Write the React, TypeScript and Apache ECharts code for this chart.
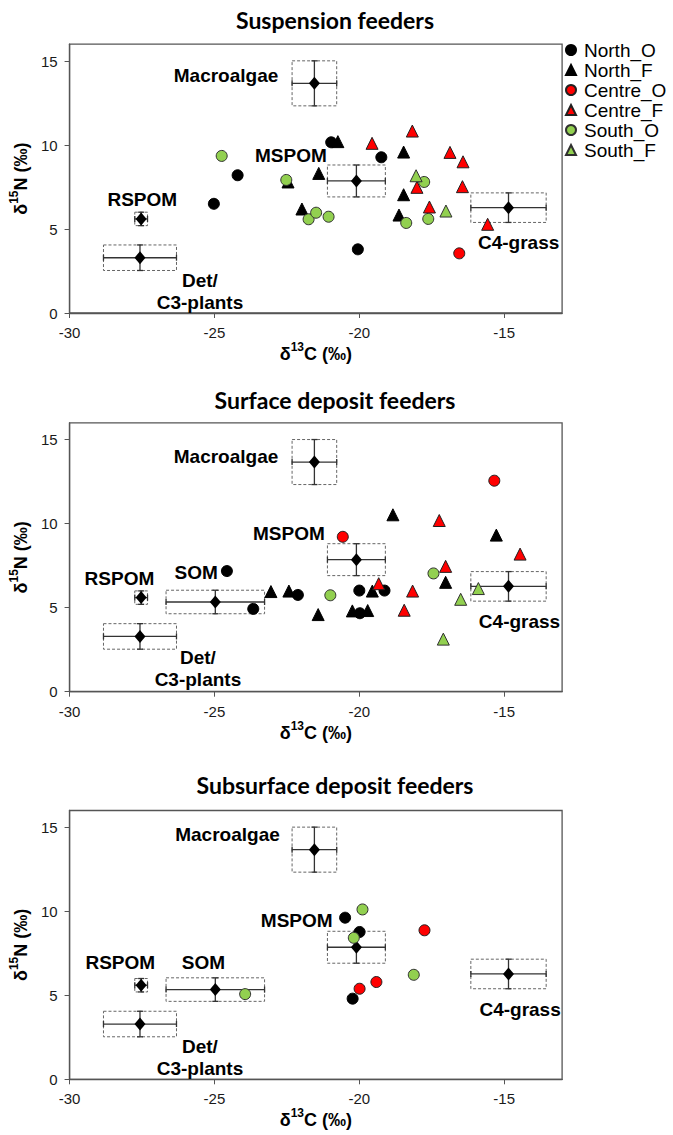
import React, { useEffect, useRef } from "react";
import * as echarts from "echarts";

// ---------- Data ----------
const panelTitles = ["Suspension feeders", "Surface deposit feeders", "Subsurface deposit feeders"];
const groupNames = ["North_O", "North_F", "Centre_O", "Centre_F", "South_O", "South_F"];

// Suspension feeders [d13C, d15N]
const susp_North_O = [[-25.02, 6.5], [-24.2, 8.2], [-20.97, 10.16], [-19.24, 9.27], [-20.05, 3.79]];
const susp_North_F = [[-22.46, 7.8], [-21.98, 6.19], [-21.4, 8.31], [-20.74, 10.2], [-18.47, 9.58], [-18.47, 7.04], [-18.63, 5.83]];
const susp_Centre_O = [[-16.55, 3.55]];
const susp_Centre_F = [[-19.56, 10.1], [-18.17, 10.83], [-18.01, 7.48], [-17.58, 6.31], [-16.87, 9.56], [-16.42, 9.0], [-16.44, 7.52], [-15.57, 5.28]];
const susp_South_O = [[-24.75, 9.35], [-22.52, 7.92], [-21.75, 5.58], [-21.49, 5.97], [-21.06, 5.73], [-17.76, 7.8], [-18.38, 5.36], [-17.62, 5.6]];
const susp_South_F = [[-18.04, 8.17], [-17.01, 6.07]];

// Surface deposit feeders
const surf_North_O = [[-24.57, 7.18], [-23.66, 4.93], [-22.12, 5.76], [-20.0, 6.02], [-19.13, 6.02], [-19.98, 4.67]];
const surf_North_F = [[-23.05, 5.96], [-22.43, 5.99], [-21.42, 4.59], [-19.55, 5.99], [-20.24, 4.81], [-19.71, 4.83], [-18.84, 10.53], [-17.02, 6.51], [-15.27, 9.32]];
const surf_Centre_O = [[-20.57, 9.22], [-15.34, 12.56]];
const surf_Centre_F = [[-19.33, 6.43], [-18.16, 5.99], [-18.45, 4.85], [-17.24, 10.19], [-17.02, 7.46], [-14.45, 8.19]];
const surf_South_O = [[-21.0, 5.74], [-17.44, 7.04]];
const surf_South_F = [[-16.5, 5.5], [-17.1, 3.13], [-15.89, 6.14]];

// Subsurface deposit feeders
const sub_North_O = [[-20.49, 9.62], [-19.99, 8.77], [-20.23, 4.8]];
const sub_North_F: number[][] = [];
const sub_Centre_O = [[-17.75, 8.87], [-19.41, 5.79], [-19.99, 5.39]];
const sub_Centre_F: number[][] = [];
const sub_South_O = [[-23.94, 5.07], [-19.89, 10.11], [-20.19, 8.42], [-18.12, 6.22]];
const sub_South_F: number[][] = [];

// Food sources: mean and SD
const sourceNames = ["Macroalgae", "MSPOM", "C4-grass", "RSPOM", "Det/C3-plants", "SOM"];
const sourceX = [-21.55, -20.1, -14.85, -27.53, -27.57, -24.97];
const sourceY = [13.67, 7.86, 6.27, 5.6, 3.29, 5.34];
const sourceXErr = [0.77, 1.0, 1.3, 0.22, 1.26, 1.7];
const sourceYErr = [1.34, 0.95, 0.88, 0.4, 0.76, 0.7];
// which sources appear in each panel
const panelSources = [[0, 1, 2, 3, 4], [0, 1, 2, 3, 4, 5], [0, 1, 2, 3, 4, 5]];

// Source label anchors (data coordinates) per panel
const labelTexts = ["Macroalgae", "MSPOM", "RSPOM", "Det/\nC3-plants", "C4-grass", "SOM"];
const labelX1 = [-24.6, -22.36, -27.49, -25.5, -14.5];
const labelY1 = [14.12, 9.4, 6.77, 1.29, 4.18];
const labelX2 = [-24.6, -22.43, -28.28, -25.57, -14.47, -25.63];
const labelY2 = [13.99, 9.44, 6.73, 1.41, 4.15, 7.12];
const labelX3 = [-24.55, -22.16, -28.25, -25.5, -14.45, -25.38];
const labelY3 = [14.58, 9.44, 6.94, 1.29, 4.15, 6.94];

const xTicks = [-30, -25, -20, -15];
const yTicks = [0, 5, 10, 15];

// ---------- Styles ----------
const FONT = '"Liberation Sans", Arial, sans-serif';
const groupStyles: Record<string, { symbol: string; color: string; border: string; size: number }> = {
  North_O: { symbol: "circle", color: "#000000", border: "#000000", size: 11 },
  North_F: { symbol: "triangle", color: "#000000", border: "#000000", size: 12 },
  Centre_O: { symbol: "circle", color: "#FF0000", border: "#202020", size: 11 },
  Centre_F: { symbol: "triangle", color: "#FF0000", border: "#202020", size: 12 },
  South_O: { symbol: "circle", color: "#92D050", border: "#303030", size: 11 },
  South_F: { symbol: "triangle", color: "#92D050", border: "#303030", size: 12 },
};

const panelData = [
  [susp_North_O, susp_North_F, susp_Centre_O, susp_Centre_F, susp_South_O, susp_South_F],
  [surf_North_O, surf_North_F, surf_Centre_O, surf_Centre_F, surf_South_O, surf_South_F],
  [sub_North_O, sub_North_F, sub_Centre_O, sub_Centre_F, sub_South_O, sub_South_F],
];
const panelLabels = [
  [labelX1, labelY1],
  [labelX2, labelY2],
  [labelX3, labelY3],
];

const gridTops = [44.2, 422.9, 810.5];
const titleYs = [20, 400, 785];

const nameRich = {
  b: { fontSize: 18, fontWeight: "bold", fontFamily: FONT, color: "#000", lineHeight: 22, verticalAlign: "bottom" },
  s: { fontSize: 12, fontWeight: "bold", fontFamily: FONT, color: "#000", lineHeight: 22, verticalAlign: "top", padding: [0, 0, 6, 0] },
};

function buildOption() {
  const grids: any[] = [];
  const xAxes: any[] = [];
  const yAxes: any[] = [];
  const series: any[] = [];
  const graphics: any[] = [];
  const axisColor = "#555555";

  for (let p = 0; p < 3; p++) {
    grids.push({
      left: 65.7,
      top: gridTops[p],
      width: 496.4,
      height: 268.8,
      show: true,
      borderColor: axisColor,
      borderWidth: 1.3,
      backgroundColor: "transparent",
    });
    xAxes.push({
      gridIndex: p,
      type: "value",
      min: -30,
      max: -13,
      interval: 5,
      axisLine: { show: true, onZero: false, lineStyle: { color: axisColor, width: 1.3 } },
      axisTick: { show: true, length: 5, customValues: xTicks, lineStyle: { color: axisColor } },
      axisLabel: { customValues: xTicks, fontSize: 15, color: "#1a1a1a", fontFamily: FONT, margin: 12 },
      splitLine: { show: false },
      name: "{b|δ}{s|13}{b|C (‰)}",
      nameLocation: "middle",
      nameGap: 27,
      nameTextStyle: { rich: nameRich },
    });
    yAxes.push({
      gridIndex: p,
      type: "value",
      min: 0,
      max: 16,
      interval: 5,
      axisLine: { show: true, onZero: false, lineStyle: { color: axisColor, width: 1.3 } },
      axisTick: { show: true, length: 5, customValues: yTicks, lineStyle: { color: axisColor } },
      axisLabel: { customValues: yTicks, fontSize: 15, color: "#1a1a1a", fontFamily: FONT, margin: 12 },
      splitLine: { show: false },
      name: "{b|δ}{s|15}{b|N (‰)}",
      nameLocation: "middle",
      nameGap: 25,
      nameTextStyle: { rich: nameRich },
    });

    // Sources: error bars, dashed boxes, diamonds
    const idxs = panelSources[p];
    series.push({
      type: "custom",
      xAxisIndex: p,
      yAxisIndex: p,
      z: 1,
      silent: true,
      data: idxs.map((i) => [sourceX[i], sourceY[i], sourceXErr[i], sourceYErr[i]]),
      encode: { x: 0, y: 1 },
      renderItem: (params: any, api: any) => {
        const x = api.value(0);
        const y = api.value(1);
        const xe = api.value(2);
        const ye = api.value(3);
        const c = api.coord([x, y]);
        const l = api.coord([x - xe, y]);
        const r = api.coord([x + xe, y]);
        const t = api.coord([x, y + ye]);
        const b = api.coord([x, y - ye]);
        const stroke = "#333333";
        const cap = 3;
        const lw = 1.3;
        return {
          type: "group",
          children: [
            {
              type: "rect",
              shape: { x: l[0], y: t[1], width: r[0] - l[0], height: b[1] - t[1] },
              style: { fill: "none", stroke: "#666666", lineWidth: 1, lineDash: [3, 2] },
            },
            { type: "line", shape: { x1: l[0], y1: c[1], x2: r[0], y2: c[1] }, style: { stroke, lineWidth: lw } },
            { type: "line", shape: { x1: c[0], y1: t[1], x2: c[0], y2: b[1] }, style: { stroke, lineWidth: lw } },
            { type: "line", shape: { x1: l[0], y1: c[1] - cap, x2: l[0], y2: c[1] + cap }, style: { stroke, lineWidth: lw } },
            { type: "line", shape: { x1: r[0], y1: c[1] - cap, x2: r[0], y2: c[1] + cap }, style: { stroke, lineWidth: lw } },
            { type: "line", shape: { x1: c[0] - cap, y1: t[1], x2: c[0] + cap, y2: t[1] }, style: { stroke, lineWidth: lw } },
            { type: "line", shape: { x1: c[0] - cap, y1: b[1], x2: c[0] + cap, y2: b[1] }, style: { stroke, lineWidth: lw } },
            {
              type: "polygon",
              shape: { points: [[c[0], c[1] - 6.5], [c[0] + 5.5, c[1]], [c[0], c[1] + 6.5], [c[0] - 5.5, c[1]]] },
              style: { fill: "#000000" },
            },
          ],
        };
      },
    });

    // Source labels
    const [lx, ly] = panelLabels[p];
    series.push({
      type: "custom",
      xAxisIndex: p,
      yAxisIndex: p,
      z: 3,
      silent: true,
      data: lx.map((v: number, i: number) => [v, ly[i]]),
      encode: { x: 0, y: 1 },
      renderItem: (params: any, api: any) => {
        const pt = api.coord([api.value(0), api.value(1)]);
        return {
          type: "text",
          x: pt[0],
          y: pt[1],
          style: {
            text: labelTexts[params.dataIndex],
            fill: "#000000",
            fontSize: 19,
            fontWeight: "bold",
            fontFamily: FONT,
            align: "center",
            verticalAlign: "middle",
            lineHeight: 22,
          },
        };
      },
    });

    // Group scatter series
    groupNames.forEach((g, gi) => {
      const st = groupStyles[g];
      series.push({
        type: "scatter",
        name: g,
        xAxisIndex: p,
        yAxisIndex: p,
        z: 5,
        symbol: st.symbol,
        symbolSize: st.size,
        data: panelData[p][gi],
        itemStyle: { color: st.color, borderColor: st.border, borderWidth: 1, opacity: 1 },
      });
    });

    graphics.push({
      type: "text",
      x: 335,
      y: titleYs[p],
      style: {
        text: panelTitles[p],
        fill: "#000000",
        fontSize: 23,
        fontWeight: "bold",
        fontFamily: "Lato, 'Open Sans', sans-serif",
        align: "center",
        verticalAlign: "middle",
      },
    });
  }

  return {
    animation: false,
    backgroundColor: "#ffffff",
    grid: grids,
    xAxis: xAxes,
    yAxis: yAxes,
    series,
    graphic: graphics,
    legend: {
      data: groupNames.map((g) => ({ name: g, icon: groupStyles[g].symbol })),
      orient: "vertical",
      left: 560,
      top: 35,
      itemWidth: 10,
      itemHeight: 10,
      itemGap: 0,
      selectedMode: false,
      textStyle: { fontSize: 19, fontFamily: FONT, color: "#000", lineHeight: 20, padding: [0, 0, 0, 3] },
    },
  };
}

export default function App() {
  const ref = useRef<HTMLDivElement>(null);
  useEffect(() => {
    document.body.style.margin = "0";
    if (!ref.current) return;
    const chart = echarts.init(ref.current, null, { renderer: "svg" });
    chart.setOption(buildOption() as any);
    return () => chart.dispose();
  }, []);
  return <div ref={ref} style={{ width: 673, height: 1135 }} />;
}
